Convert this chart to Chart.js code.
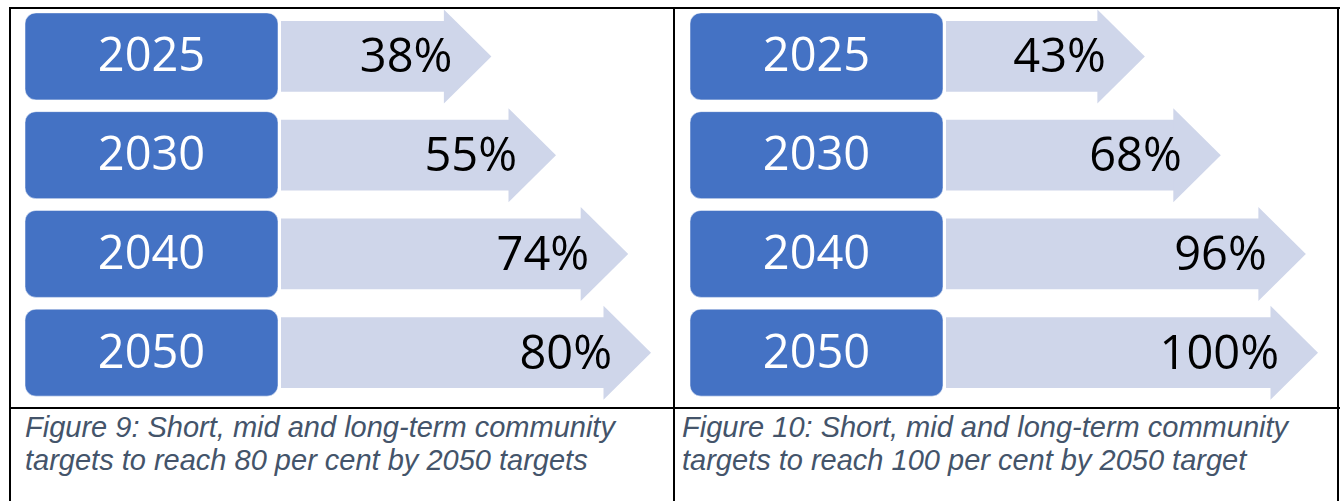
<!DOCTYPE html>
<html>
<head>
<meta charset="utf-8">
<script src="https://cdn.jsdelivr.net/npm/chart.js@4.4.1/dist/chart.umd.min.js"></script>
<style>
    html, body { margin: 0; padding: 0; background: #fff; }
    #page { position: relative; width: 1340px; height: 501px; overflow: hidden; }
    canvas { position: absolute; top: 0; }
    .line { position: absolute; background: #000; z-index: 2; }
    .caption {
        position: absolute; top: 408px; padding-top: 3px;
        font-family: "Liberation Sans", Arial, sans-serif;
        font-style: italic; font-size: 29px; line-height: 33px;
        color: #44546A; white-space: nowrap;
    }
</style>
</head>
<body>
<div id="page">
    <canvas id="leftChart" width="673" height="408" style="left:0"></canvas>
    <canvas id="rightChart" width="667" height="408" style="left:673px"></canvas>

    <div class="line" style="left:9px; top:7px; width:1331px; height:2px"></div>
    <div class="line" style="left:9px; top:407px; width:1331px; height:2px"></div>
    <div class="line" style="left:9px; top:7px; width:2px; height:494px"></div>
    <div class="line" style="left:673px; top:7px; width:2px; height:494px"></div>
    <div class="line" style="left:1337px; top:7px; width:2px; height:494px"></div>

    <div class="caption" style="left:25px">Figure 9: Short, mid and long-term community<br>targets to reach 80 per cent by 2050 targets</div>
    <div class="caption" style="left:682px">Figure 10: Short, mid and long-term community<br>targets to reach 100 per cent by 2050 target</div>
</div>

<script>
// Data
const years = ['2025', '2030', '2040', '2050'];
const targets80 = [38, 55, 74, 80];
const targets100 = [43, 68, 96, 100];

const colors = {
    box: '#4472C4',
    arrow: '#CFD6EA',
    yearText: '#FFFFFF',
    pctText: '#000000',
};

const textFont = '47px "Open Sans", "Noto Sans", sans-serif';

// draws the blue year boxes, the arrow heads and the labels around each bar
const arrowPlugin = {
    id: 'arrows',
    afterDatasetsDraw(chart) {
        const ctx = chart.ctx;
        const area = chart.chartArea;
        const meta = chart.getDatasetMeta(0);
        const yScale = chart.scales.y;
        const head = 47;

        ctx.save();
        meta.data.forEach((bar, i) => {
            const cy = yScale.getPixelForValue(i);

            // arrow head
            ctx.fillStyle = colors.arrow;
            ctx.beginPath();
            ctx.moveTo(bar.x - 0.5, cy - head);
            ctx.lineTo(bar.x + head, cy);
            ctx.lineTo(bar.x - 0.5, cy + head);
            ctx.closePath();
            ctx.fill();

            // year box
            const bx = area.left - 256, bw = 253, bh = 87;
            ctx.fillStyle = colors.box;
            ctx.beginPath();
            ctx.roundRect(bx, cy - bh / 2, bw, bh, 11);
            ctx.fill();
            ctx.strokeStyle = 'rgba(255,255,255,0.5)';
            ctx.lineWidth = 1;
            ctx.stroke();

            ctx.font = textFont;
            ctx.textBaseline = 'alphabetic';
            ctx.fillStyle = colors.yearText;
            ctx.textAlign = 'center';
            ctx.fillText(chart.data.labels[i], bx + bw / 2, cy + 15);

            // percentage
            ctx.fillStyle = colors.pctText;
            ctx.textAlign = 'right';
            ctx.fillText(chart.data.datasets[0].data[i] + '%', bar.x + 8, cy + 16);
        });
        ctx.restore();
    }
};

function makeChart(id, values, xMin, xMax, padLeft, padRight) {
    return new Chart(document.getElementById(id), {
        type: 'bar',
        data: {
            labels: years,
            datasets: [{
                data: values,
                base: xMin,
                backgroundColor: colors.arrow,
                borderWidth: 0,
                barThickness: 70,
            }]
        },
        options: {
            indexAxis: 'y',
            responsive: false,
            animation: false,
            layout: {
                padding: { left: padLeft, right: padRight, top: 7, bottom: 6 }
            },
            plugins: {
                legend: { display: false },
                tooltip: { enabled: false }
            },
            scales: {
                x: { display: false, min: xMin, max: xMax },
                y: { display: false }
            }
        },
        plugins: [arrowPlugin]
    });
}

makeChart('leftChart', targets80, -5, 90, 281, 31);
makeChart('rightChart', targets100, -7, 100, 273, 69);
</script>
</body>
</html>
